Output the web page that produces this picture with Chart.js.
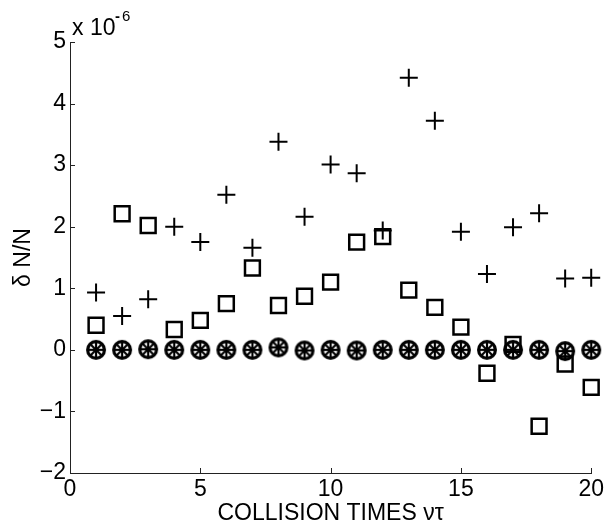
<!DOCTYPE html>
<html>
<head>
<meta charset="utf-8">
<script src="https://cdn.jsdelivr.net/npm/chart.js@4.4.1/dist/chart.umd.min.js"></script>
<style>
  html, body { margin: 0; padding: 0; background: #fff; }
  #wrap { width: 607px; height: 529px; }
</style>
</head>
<body>
<div id="wrap"><canvas id="chart" width="607" height="529"></canvas></div>
<script>
/* δN/N vs collision times — three runs, values in units of 1e-6 */
const collisionTimes = [1, 2, 3, 4, 5, 6, 7, 8, 9, 10, 11, 12, 13, 14, 15, 16, 17, 18, 19, 20];
const plusValues   = [0.93, 0.55, 0.82, 2.0, 1.75, 2.52, 1.66, 3.38, 2.16, 3.01, 2.87, 1.94, 4.42, 3.72, 1.92, 1.23, 1.99, 2.22, 1.16, 1.17];
const squareValues = [0.40, 2.21, 2.02, 0.33, 0.48, 0.75, 1.33, 0.72, 0.87, 1.10, 1.75, 1.84, 0.97, 0.69, 0.37, -0.38, 0.09, -1.24, -0.23, -0.61];
const circleValues = [0.0, 0.0, 0.01, 0.0, 0.0, 0.0, 0.0, 0.04, -0.01, 0.0, -0.01, 0.0, 0.0, 0.0, 0.0, 0.0, 0.0, 0.0, -0.02, 0.0];
const xTicks = [0, 5, 10, 15, 20];
const yTicks = [-2, -1, 0, 1, 2, 3, 4, 5];

const FONT = 'Liberation Sans, Arial, sans-serif';

// circle with an asterisk inside (matlab 'o' + '*' overlay)
function makeWheel() {
    const c = document.createElement('canvas');
    c.width = 22; c.height = 22;
    const g = c.getContext('2d');
    g.strokeStyle = '#000';
    g.lineWidth = 3.2;
    g.beginPath();
    g.arc(11, 11, 8.4, 0, Math.PI * 2);
    g.stroke();
    g.lineWidth = 2.2;
    for (let i = 0; i < 4; i++) {
        const a = i * Math.PI / 4;
        g.beginPath();
        g.moveTo(11 - Math.cos(a) * 7.5, 11 - Math.sin(a) * 7.5);
        g.lineTo(11 + Math.cos(a) * 7.5, 11 + Math.sin(a) * 7.5);
        g.stroke();
    }
    return c;
}

const toPoints = vals => collisionTimes.map((x, i) => ({ x: x, y: vals[i] }));

const inwardTicks = {
    id: 'inwardTicks',
    afterDraw(chart) {
        const { ctx, chartArea, scales: { x, y } } = chart;
        ctx.save();
        ctx.strokeStyle = '#222';
        ctx.lineWidth = 1;
        ctx.beginPath();
        xTicks.forEach(v => {
            const px = Math.round(x.getPixelForValue(v)) + 0.5;
            ctx.moveTo(px, chartArea.bottom);
            ctx.lineTo(px, chartArea.bottom - 5);
        });
        yTicks.forEach(v => {
            const py = Math.round(y.getPixelForValue(v)) + 0.5;
            ctx.moveTo(chartArea.left, py);
            ctx.lineTo(chartArea.left + 5, py);
        });
        ctx.stroke();

        // exponent label
        ctx.fillStyle = '#000';
        ctx.textBaseline = 'alphabetic';
        ctx.textAlign = 'left';
        ctx.font = '23px ' + FONT;
        ctx.fillText('x 10', 72, 35);
        ctx.font = 'bold 15px ' + FONT;
        ctx.fillText('-', 115, 21);
        ctx.font = '15px ' + FONT;
        ctx.fillText('6', 122, 21);
        ctx.restore();
    }
};

new Chart(document.getElementById('chart'), {
    type: 'scatter',
    data: {
        datasets: [
            {
                label: 'plus',
                data: toPoints(plusValues),
                pointStyle: 'cross',
                pointRadius: 9,
                pointBorderWidth: 2,
                borderColor: '#000',
                backgroundColor: '#000',
                clip: false
            },
            {
                label: 'square',
                data: toPoints(squareValues),
                pointStyle: 'rect',
                pointRadius: 10.5,
                pointBorderWidth: 2.5,
                borderColor: '#000',
                backgroundColor: 'rgba(0,0,0,0)',
                clip: false
            },
            {
                label: 'wheel',
                data: toPoints(circleValues),
                pointStyle: makeWheel(),
                pointRadius: 10,
                borderColor: '#000',
                backgroundColor: '#000',
                clip: false
            }
        ]
    },
    options: {
        responsive: false,
        animation: false,
        events: [],
        layout: { padding: { left: 0, right: 13, top: 42, bottom: 0 } },
        plugins: {
            legend: { display: false },
            tooltip: { enabled: false }
        },
        scales: {
            x: {
                type: 'linear',
                min: 0,
                max: 20,
                afterBuildTicks: s => { s.ticks = xTicks.map(v => ({ value: v })); },
                afterFit: s => { s.height = 56; },
                grid: { display: true, drawOnChartArea: false, drawTicks: false },
                border: { display: true, color: '#222', width: 1 },
                ticks: {
                    color: '#000',
                    padding: 3,
                    maxRotation: 0,
                    font: { family: FONT, size: 23 }
                },
                title: {
                    display: true,
                    text: 'COLLISION TIMES \u03bd\u03c4',
                    color: '#000',
                    padding: { top: 0, bottom: 2 },
                    font: { family: FONT, size: 23 }
                }
            },
            y: {
                type: 'linear',
                min: -2,
                max: 5,
                afterBuildTicks: s => { s.ticks = yTicks.map(v => ({ value: v })); },
                afterFit: s => { s.width = 70; },
                grid: { display: true, drawOnChartArea: false, drawTicks: false },
                border: { display: true, color: '#222', width: 1 },
                ticks: {
                    color: '#000',
                    padding: 4,
                    font: { family: FONT, size: 23 },
                    callback: v => v < 0 ? '\u2212' + Math.abs(v) : String(v)
                },
                title: {
                    display: true,
                    text: '\u03b4 N/N',
                    color: '#000',
                    padding: { top: 10, bottom: 0 },
                    font: { family: FONT, size: 23 }
                }
            }
        }
    },
    plugins: [inwardTicks]
});
</script>
</body>
</html>
